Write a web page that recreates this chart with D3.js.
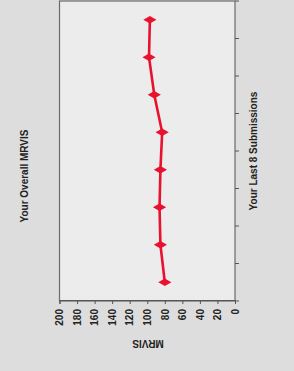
<!DOCTYPE html>
<html>
<head>
<meta charset="utf-8">
<script src="https://cdn.jsdelivr.net/npm/d3@7"></script>
<style>
  body { margin: 0; background: #dcdcdc; }
  svg { display: block; }
  text { font-family: "Liberation Sans", Arial, sans-serif; fill: #222; }
</style>
</head>
<body>
<svg id="chart" width="294" height="371"></svg>
<script>
const svgWidth = 294;
const svgHeight = 371;

const submissions = ["1", "2", "3", "4", "5", "6", "7", "8"];
const mrvis = [80, 85, 86, 85, 83, 92, 98, 97];
const valueTicks = [0, 20, 40, 60, 80, 100, 120, 140, 160, 180, 200];

const chartTitle = "Your Overall MRVIS";
const xTitle = "Your Last 8 Submissions";
const yTitle = "MRVIS";

const svg = d3.select("#chart");

svg.append("rect")
    .attr("width", svgWidth)
    .attr("height", svgHeight)
    .attr("fill", "#dddddd");

// the scanned page is turned a quarter turn, so draw upright and rotate
const g = svg.append("g")
    .attr("transform", `translate(0,${svgHeight}) rotate(-90)`);

const xScale = d3.scaleBand()
    .domain(submissions)
    .range([70, 370]);

const yScale = d3.scaleLinear()
    .domain([0, 200])
    .range([235, 59.5]);

g.append("rect")
    .attr("x", xScale.range()[0])
    .attr("y", yScale(200))
    .attr("width", xScale.range()[1] - xScale.range()[0])
    .attr("height", yScale(0) - yScale(200))
    .attr("fill", "#ececec")
    .attr("stroke", "#6a6a6a")
    .attr("stroke-width", 1.2);

const yAxis = g.append("g")
    .attr("transform", `translate(${xScale.range()[0]},0)`)
    .call(d3.axisLeft(yScale).tickValues(valueTicks).tickSize(3).tickPadding(5));

yAxis.select(".domain").attr("stroke", "#555");
yAxis.selectAll(".tick line").attr("stroke", "#555");
yAxis.selectAll(".tick text")
    .style("font-size", "10px")
    .style("font-weight", "bold")
    .attr("fill", "#333");

// category ticks sit between the bands
const bounds = submissions.map(d => xScale(d)).concat([xScale.range()[1]]);
g.selectAll(".cat-tick")
    .data(bounds)
    .enter().append("line")
    .attr("class", "cat-tick")
    .attr("x1", d => d)
    .attr("x2", d => d)
    .attr("y1", yScale(0))
    .attr("y2", yScale(0) + 4)
    .attr("stroke", "#555");

const line = d3.line()
    .x((d, i) => xScale(submissions[i]) + xScale.bandwidth() / 2)
    .y(d => yScale(d));

g.append("path")
    .datum(mrvis)
    .attr("d", line)
    .attr("fill", "none")
    .attr("stroke", "#e8122e")
    .attr("stroke-width", 2.6);

g.selectAll(".pt")
    .data(mrvis)
    .enter().append("path")
    .attr("class", "pt")
    .attr("d", d3.symbol().type(d3.symbolDiamond).size(50))
    .attr("transform", (d, i) => `translate(${xScale(submissions[i]) + xScale.bandwidth() / 2},${yScale(d)})`)
    .attr("fill", "#e8122e");

g.append("text")
    .attr("x", 195)
    .attr("y", 28)
    .attr("text-anchor", "middle")
    .style("font-size", "10px")
    .style("font-weight", "600")
    .text(chartTitle);

g.append("text")
    .attr("x", 220)
    .attr("y", 257)
    .attr("text-anchor", "middle")
    .style("font-size", "10px")
    .style("font-weight", "600")
    .text(xTitle);

g.append("text")
    .attr("transform", "translate(31,148) rotate(-90)")
    .attr("text-anchor", "middle")
    .style("font-size", "10px")
    .style("font-weight", "600")
    .text(yTitle);
</script>
</body>
</html>
